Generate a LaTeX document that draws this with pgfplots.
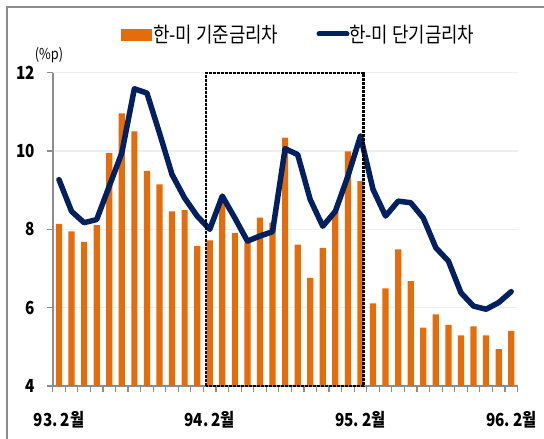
\documentclass[border=0pt]{standalone}
\usepackage{pgfplots}
\pgfplotsset{compat=1.18}
\usepackage{fontspec}
\setmainfont{Noto Sans CJK KR}
\newfontfamily\kr{Noto Sans CJK KR}[FakeStretch=0.85]
\definecolor{barorange}{HTML}{E46C0A}
\definecolor{navy}{HTML}{002060}
\definecolor{axgray}{HTML}{8C8C8C}
\definecolor{gridgray}{HTML}{EEEEEE}
\begin{document}
\begin{tikzpicture}
\useasboundingbox (0,0) rectangle (544pt,439pt);
\draw[axgray, line width=2pt] (7pt,0pt) -- (7pt,432pt) -- (544pt,432pt);
\begin{axis}[
  at={(52.7pt,53pt)}, anchor=south west,
  scale only axis, width=464.8pt, height=313.3pt,
  xmin=-0.5, xmax=36.5, ymin=4, ymax=12,
  axis x line*=bottom, axis y line*=left,
  axis line style={axgray, line width=1.8pt},
  xtick={0,12,24,36},
  xticklabels={93.\,2월, 94.\,2월, 95.\,2월, 96.\,2월},
  minor xtick={-0.5,0.5,...,36.5},
  major x tick style={draw=none},
  minor x tick style={axgray, line width=1.2pt},
  minor tick length=6pt,
  ytick={4,6,8,10,12},
  major tick length=6pt,
  tick align=outside,
  y tick style={axgray, line width=1.2pt},
  ymajorgrids, grid style={gridgray, line width=1.5pt},
  /pgf/number format/assume math mode=true,
  ticklabel style={font=\kr\bfseries\fontsize{18}{18}\selectfont, text=black},
  yticklabel style={anchor=east, xshift=-8pt},
  xticklabel style={anchor=center, yshift=-28pt},
  clip=false,
]
\addplot[ybar, bar width=6.2pt, bar shift=0pt, fill=barorange, draw=none] coordinates {
(0,8.14) (1,7.95) (2,7.68) (3,8.11) (4,9.95) (5,10.96) (6,10.50) (7,9.49) (8,9.15) (9,8.46)
(10,8.49) (11,7.57) (12,7.72) (13,8.68) (14,7.91) (15,7.66) (16,8.30) (17,8.17) (18,10.34) (19,7.61)
(20,6.76) (21,7.53) (22,8.46) (23,9.99) (24,9.23) (25,6.11) (26,6.49) (27,7.49) (28,6.68) (29,5.49)
(30,5.83) (31,5.56) (32,5.29) (33,5.52) (34,5.29) (35,4.94) (36,5.41)
};
\addplot[navy, line width=5.5pt, line join=round, line cap=round] coordinates {
(0,9.27) (1,8.46) (2,8.17) (3,8.25) (4,9.10) (5,9.95) (6,11.59) (7,11.48) (8,10.46) (9,9.40)
(10,8.80) (11,8.34) (12,8.00) (13,8.85) (14,8.29) (15,7.70) (16,7.83) (17,7.94) (18,10.06) (19,9.91)
(20,8.76) (21,8.08) (22,8.46) (23,9.36) (24,10.38) (25,9.02) (26,8.34) (27,8.72) (28,8.68) (29,8.29)
(30,7.53) (31,7.19) (32,6.38) (33,6.04) (34,5.96) (35,6.13) (36,6.41)
};
\draw[black, line width=2.2pt, dash pattern=on 3pt off 1pt] (axis cs:11.69,4) rectangle (axis cs:24.24,12);
\end{axis}
\node[anchor=center, font=\kr\fontsize{15}{15}\selectfont, inner sep=0pt] at (49pt,384pt) {(\%p)};
\fill[barorange] (121pt,398pt) rectangle (151.7pt,410pt);
\node[anchor=west, inner sep=0pt, font=\kr\fontsize{21}{21}\selectfont] at (153pt,404pt) {한-미 기준금리차};
\draw[navy, line width=5pt, line cap=round] (319pt,405pt) -- (347pt,405pt);
\node[anchor=west, inner sep=0pt, font=\kr\fontsize{21}{21}\selectfont] at (349pt,404pt) {한-미 단기금리차};
\end{tikzpicture}
\end{document}
